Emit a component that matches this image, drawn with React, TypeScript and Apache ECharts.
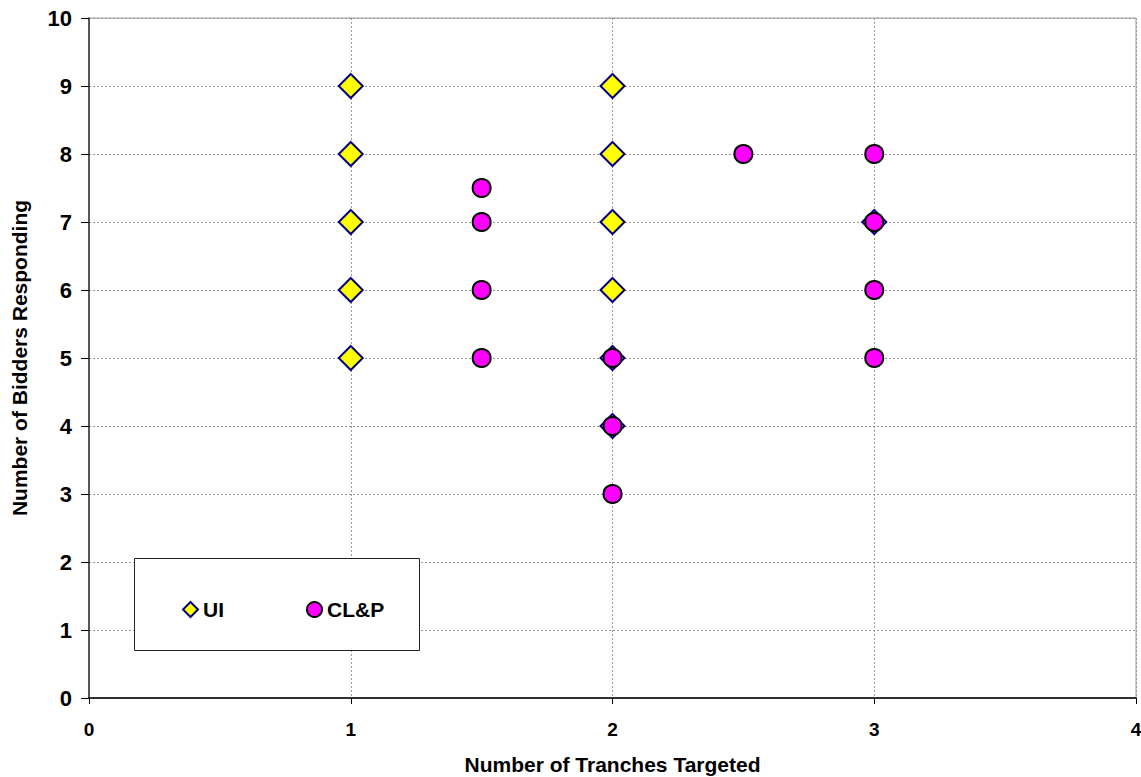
import React, { useEffect, useRef } from "react";
import * as echarts from "echarts";

const uiX = [1, 1, 1, 1, 1, 2, 2, 2, 2, 2, 2, 3];
const uiY = [9, 8, 7, 6, 5, 9, 8, 7, 6, 5, 4, 7];
const clpX = [1.5, 1.5, 1.5, 1.5, 2, 2, 2, 2.5, 3, 3, 3, 3];
const clpY = [7.5, 7, 6, 5, 5, 4, 3, 8, 8, 7, 6, 5];
const xTicks = [0, 1, 2, 3, 4];
const yTicks = [0, 1, 2, 3, 4, 5, 6, 7, 8, 9, 10];

const FONT = "Arial, 'Liberation Sans', sans-serif";

export default function App() {
  const ref = useRef<HTMLDivElement>(null);
  useEffect(() => {
    if (!ref.current) return;
    const chart = echarts.init(ref.current, null, { renderer: "svg" });
    chart.setOption({
      animation: false,
      backgroundColor: "#ffffff",
      textStyle: { fontFamily: FONT },
      grid: {
        left: 89,
        top: 18,
        right: 5,
        bottom: 79,
        outerBoundsMode: "none",
        containLabel: false,
        show: true,
        borderColor: "#999999",
        borderWidth: 1,
      },
      graphic: [
        {
          type: "rect",
          left: 134,
          top: 558,
          shape: { width: 285, height: 92 },
          style: { fill: "#ffffff", stroke: "#222222", lineWidth: 1 },
          z: 10,
        },
      ],
      legend: {
        left: 177,
        top: 594,
        itemGap: 82,
        itemWidth: 15,
        itemHeight: 15,
        z: 11,
        textStyle: { fontFamily: FONT, fontWeight: "bold", fontSize: 21, color: "#000" },
        data: [
          { name: "UI", itemStyle: { color: "#FFFF00", borderColor: "#000080", borderWidth: 2 } },
          { name: "CL&P", itemStyle: { color: "#FF00FF", borderColor: "#000000", borderWidth: 2 } },
        ],
      },
      xAxis: {
        type: "value",
        min: xTicks[0],
        max: xTicks[xTicks.length - 1],
        interval: 1,
        name: "Number of Tranches Targeted",
        nameLocation: "middle",
        nameGap: 56,
        nameTextStyle: { fontFamily: FONT, fontWeight: "bold", fontSize: 21, color: "#000" },
        axisLine: { show: true, onZero: false, lineStyle: { color: "#000", width: 1.5 } },
        axisTick: { show: true, inside: false, length: 6, lineStyle: { color: "#000" } },
        axisLabel: { fontFamily: FONT, fontWeight: "bold", fontSize: 19, color: "#000", margin: 22 },
        splitLine: { show: true, lineStyle: { color: "#999999", type: [2, 2], width: 1 } },
      },
      yAxis: {
        type: "value",
        min: yTicks[0],
        max: yTicks[yTicks.length - 1],
        interval: 1,
        name: "Number of Bidders Responding",
        nameLocation: "middle",
        nameGap: 59,
        nameTextStyle: { fontFamily: FONT, fontWeight: "bold", fontSize: 21, color: "#000" },
        axisLine: { show: true, onZero: false, lineStyle: { color: "#333", width: 1.5 } },
        axisTick: { show: true, inside: false, length: 8, lineStyle: { color: "#000" } },
        axisLabel: { fontFamily: FONT, fontWeight: "bold", fontSize: 22, color: "#000", margin: 17 },
        splitLine: { show: true, lineStyle: { color: "#999999", type: [2, 2], width: 1 } },
      },
      series: [
        {
          name: "UI",
          type: "scatter",
          symbol: "diamond",
          symbolSize: 24,
          itemStyle: { color: "#FFFF00", borderColor: "#000080", borderWidth: 2, opacity: 1 },
          data: uiX.map((x, i) => [x, uiY[i]]),
          z: 3,
        },
        {
          name: "CL&P",
          type: "scatter",
          symbol: "circle",
          symbolSize: 18,
          itemStyle: { color: "#FF00FF", borderColor: "#000000", borderWidth: 2, opacity: 1 },
          data: clpX.map((x, i) => [x, clpY[i]]),
          z: 4,
        },
      ],
    });
    return () => chart.dispose();
  }, []);
  return (
    <div
      ref={ref}
      style={{ position: "absolute", left: 0, top: 0, width: 1141, height: 777 }}
    />
  );
}
